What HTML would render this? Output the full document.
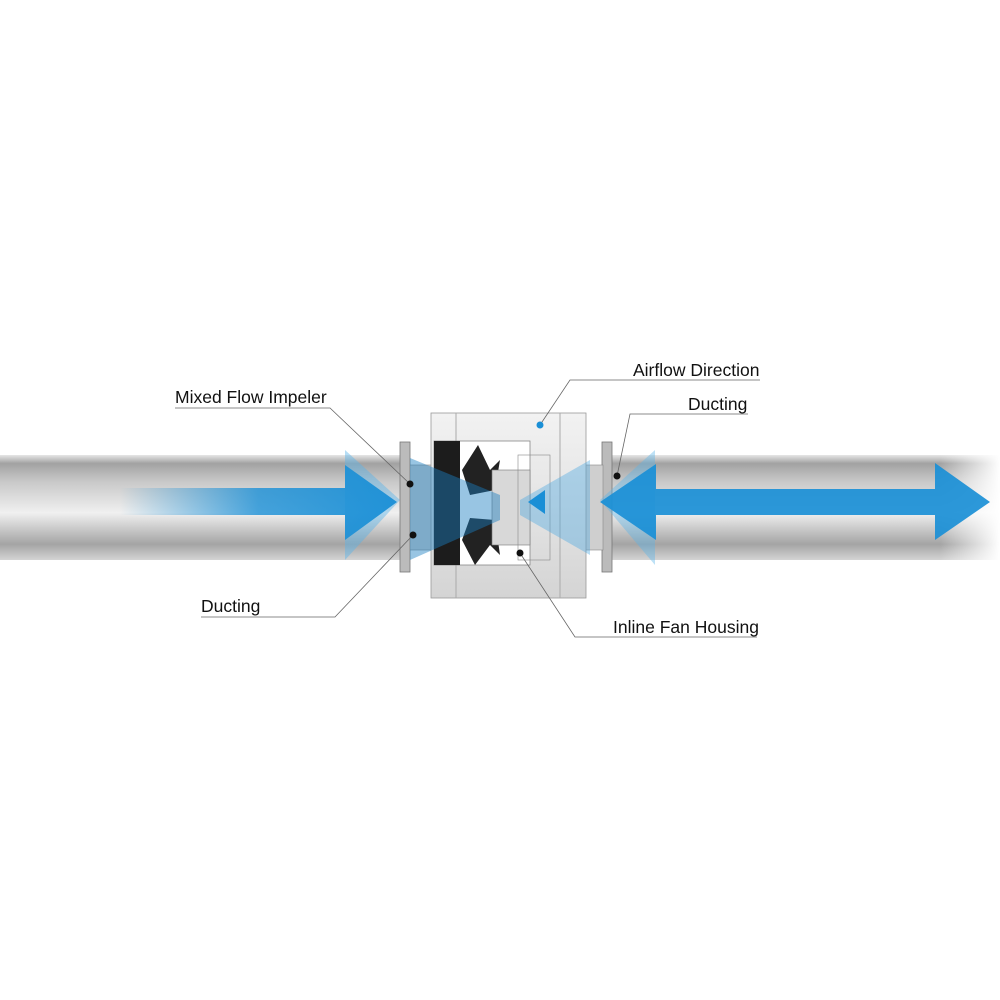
<!DOCTYPE html>
<html><head><style>
body{margin:0;background:#fff;}
svg{display:block;font-family:"Liberation Sans",sans-serif;}
</style></head><body>
<svg width="1000" height="1000" viewBox="0 0 1000 1000">
<defs>
<linearGradient id="duct" x1="0" y1="0" x2="0" y2="1">
<stop offset="0" stop-color="#e6e6e6"/><stop offset="0.08" stop-color="#a2a2a2"/>
<stop offset="0.25" stop-color="#c8c8c8"/><stop offset="0.55" stop-color="#f0f0f0"/>
<stop offset="0.85" stop-color="#a4a4a4"/><stop offset="1" stop-color="#d4d4d4"/>
</linearGradient>
<linearGradient id="fadeR" x1="0" y1="0" x2="1" y2="0">
<stop offset="0" stop-color="#fff" stop-opacity="0"/><stop offset="1" stop-color="#fff" stop-opacity="1"/>
</linearGradient>
<linearGradient id="arrL" x1="0" y1="0" x2="1" y2="0">
<stop offset="0" stop-color="#1a8fd6" stop-opacity="0"/><stop offset="0.5" stop-color="#1a8fd6" stop-opacity="0.8"/><stop offset="1" stop-color="#1a8fd6" stop-opacity="0.95"/>
</linearGradient>
<linearGradient id="hous" x1="0" y1="0" x2="0" y2="1">
<stop offset="0" stop-color="#f2f2f2"/><stop offset="0.5" stop-color="#e4e4e4"/><stop offset="1" stop-color="#d4d4d4"/>
</linearGradient>
</defs>
<rect x="0" y="455" width="408" height="105" fill="url(#duct)"/>
<rect x="605" y="455" width="395" height="105" fill="url(#duct)"/>
<rect x="940" y="450" width="60" height="115" fill="url(#fadeR)"/>
<rect x="400" y="442" width="10" height="130" fill="#bbb" stroke="#777" stroke-width="0.8"/>
<rect x="410" y="465" width="22" height="85" fill="#cfcfcf" stroke="#888" stroke-width="0.6"/>
<rect x="602" y="442" width="10" height="130" fill="#bbb" stroke="#777" stroke-width="0.8"/>
<rect x="585" y="465" width="18" height="85" fill="#cfcfcf" stroke="#888" stroke-width="0.6"/>
<rect x="431" y="413" width="155" height="185" fill="url(#hous)" stroke="#999" stroke-width="0.8"/>
<line x1="456" y1="413" x2="456" y2="598" stroke="#aaa"/>
<line x1="560" y1="413" x2="560" y2="598" stroke="#aaa"/>
<rect x="434" y="441" width="96" height="124" fill="#fff" stroke="#888" stroke-width="0.8"/>
<rect x="434" y="441" width="26" height="124" fill="#1c1c1c"/>
<path d="M462 470 L478 445 L490 470 L500 460 L495 490 L470 495 Z M462 540 L475 565 L490 545 L500 555 L495 520 L470 518 Z" fill="#222"/>
<rect x="492" y="470" width="38" height="75" fill="#d8d8d8" stroke="#777" stroke-width="0.6"/>
<rect x="518" y="455" width="32" height="105" fill="none" stroke="#888" stroke-width="0.6"/>
<path d="M345 450 L400 500 L345 560 Z" fill="#5ab3e8" opacity="0.45"/>
<path d="M410 458 L500 495 L500 520 L410 560 Z" fill="#1a7fc0" opacity="0.45"/>
<path d="M655 450 L600 500 L655 565 Z" fill="#5ab3e8" opacity="0.4"/>
<path d="M590 460 L520 500 L520 515 L590 555 Z" fill="#4aa8e0" opacity="0.4"/>
<path d="M120 488 L345 488 L345 465 L397 502 L345 540 L345 515 L120 515 Z" fill="url(#arrL)"/>
<path d="M600 502 L656 464 L656 489 L935 489 L935 463 L990 502 L935 540 L935 515 L656 515 L656 540 Z" fill="#1a8fd6" opacity="0.92"/>
<path d="M528 502 L545 490 L545 514 Z" fill="#1a8fd6"/>
<g stroke="#666" stroke-width="0.8" fill="none">
<polyline points="175,408 330,408 410,484"/>
<polyline points="760,380 570,380 540,425"/>
<polyline points="748,414 630,414 617,476"/>
<polyline points="201,617 335,617 413,535"/>
<polyline points="757,637 575,637 520,553"/>
</g>
<g fill="#111">
<circle cx="410" cy="484" r="3.5"/><circle cx="413" cy="535" r="3.5"/>
<circle cx="617" cy="476" r="3.5"/><circle cx="520" cy="553" r="3.5"/>
</g>
<circle cx="540" cy="425" r="3.5" fill="#1a8fd6"/>
<g font-size="17.5" fill="#111">
<text x="175" y="403">Mixed Flow Impeler</text>
<text x="633" y="376">Airflow Direction</text>
<text x="688" y="410">Ducting</text>
<text x="201" y="612">Ducting</text>
<text x="613" y="633">Inline Fan Housing</text>
</g>
</svg>
</body></html>
